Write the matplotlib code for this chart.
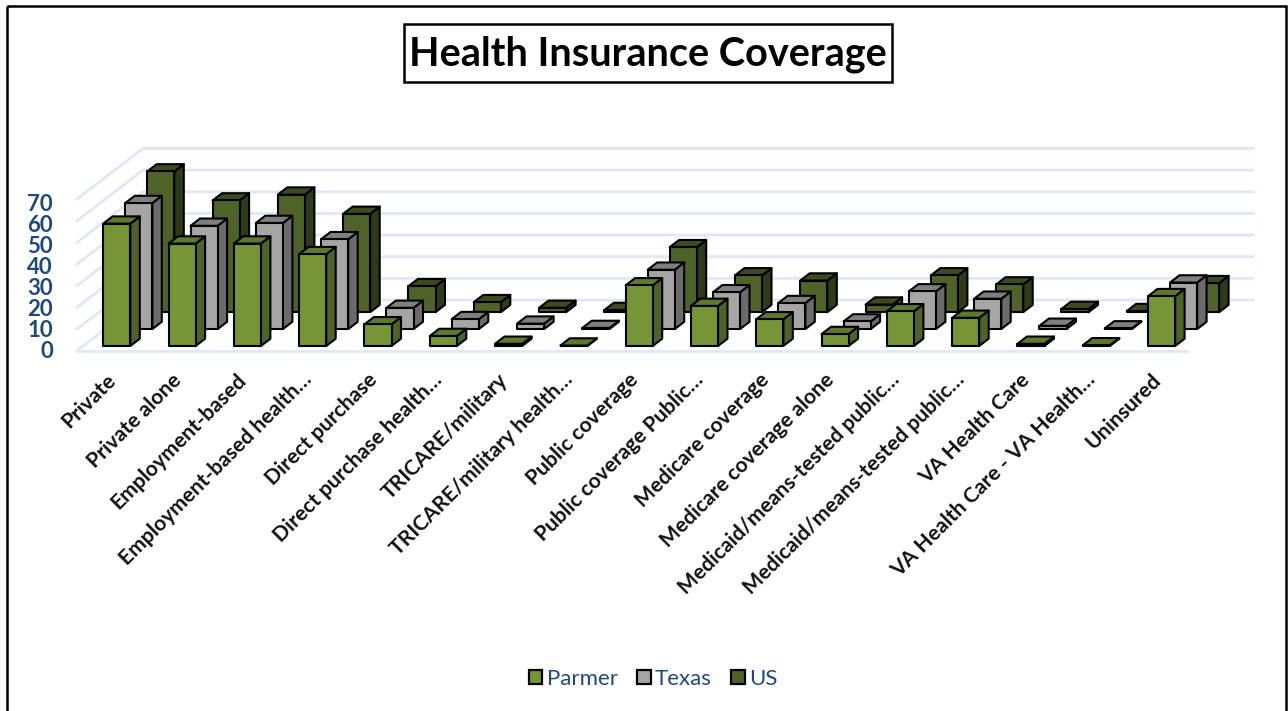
import matplotlib
matplotlib.use("Agg")
import matplotlib.pyplot as plt
from matplotlib.patches import Patch, Polygon, Rectangle

plt.rcParams["font.family"] = ["Lato", "DejaVu Sans"]

categories = [
    "Private", "Private alone", "Employment-based", "Employment-based health…",
    "Direct purchase", "Direct purchase health…", "TRICARE/military",
    "TRICARE/military health…", "Public coverage", "Public coverage Public…",
    "Medicare coverage", "Medicare coverage alone",
    "Medicaid/means-tested public…", "Medicaid/means-tested public…",
    "VA Health Care", "VA Health Care - VA Health…", "Uninsured",
]
parmer = [56.5, 47.3, 47.3, 42.4, 10, 4.6, 1, 0.2, 28, 18.5, 12.3, 5.5, 16, 13, 1, 0.3, 23]
texas = [58.2, 47.7, 49, 41.5, 9.8, 4.6, 2.5, 0.5, 27.4, 17, 12, 3.5, 17.4, 14, 1.5, 0.3, 21.5]
us = [65, 51.6, 54.3, 45.4, 12, 4.6, 2, 1, 30, 17, 14.6, 3.5, 17, 12.8, 1.5, 0.5, 13.4]
y_ticks = [0, 10, 20, 30, 40, 50, 60, 70]

# front, side, top colours
PARMER_COLORS = ("#769537", "#4f6228", "#5c7a2a")
TEXAS_COLORS = ("#a6a6a6", "#6b6b6b", "#7f7f7f")
US_COLORS = ("#4f6228", "#2f3b18", "#3c4b1e")
BLUE = "#1f497d"
GRID = "#dfe8f6"

# oblique projection of the 3D box, in figure pixels
X0, Y0 = 77.0, 350.7
CAT_W = 65.3
UNIT = 2.165
DEPTH_X, DEPTH_Y = 66.0, -50.7
BAR_W = 0.415


def project(pos, depth, value):
    return (X0 + pos * CAT_W + depth * DEPTH_X,
            Y0 + depth * DEPTH_Y - value * UNIT)


def draw_bar(ax, pos, row, value, colors):
    left = pos + 0.515 - BAR_W / 2
    right = pos + 0.515 + BAR_W / 2
    d0 = (row + 0.28) / 3
    d1 = (row + 0.71) / 3
    faces = [
        ([(right, d0, 0), (right, d1, 0), (right, d1, value), (right, d0, value)], colors[1]),
        ([(left, d0, value), (right, d0, value), (right, d1, value), (left, d1, value)], colors[2]),
        ([(left, d0, 0), (right, d0, 0), (right, d0, value), (left, d0, value)], colors[0]),
    ]
    for corners, color in faces:
        pts = [project(*c) for c in corners]
        ax.add_patch(Polygon(pts, closed=True, facecolor=color, edgecolor="black",
                             linewidth=1.5, joinstyle="round", zorder=3))


fig = plt.figure(figsize=(12.88, 7.11), dpi=100)
ax = fig.add_axes([0, 0, 1, 1])
ax.set_xlim(0, 1288)
ax.set_ylim(711, 0)
ax.axis("off")

# outer frame
ax.add_patch(Rectangle((7.5, 5.5), 1279, 720, fill=False, edgecolor="black", linewidth=1.8))

# gridlines on side and back walls
n = len(categories)
for tick in y_ticks:
    xa, ya = project(0, 0, tick)
    xb, yb = project(0, 1, tick)
    xc, yc = project(n, 1, tick)
    ax.plot([xa, xb, xc], [ya, yb, yc], color=GRID, linewidth=2, zorder=1)
    ax.text(xa - 24, Y0 + 1.3 - tick * 2.114, str(tick), ha="right", va="center", color=BLUE,
            fontsize=16, fontweight="bold")
xa, ya = project(0, 0, 0)
xb, yb = project(n, 0, 0)
ax.plot([xa, xb], [ya, yb], color=GRID, linewidth=2, zorder=1)

# back row first so the front rows overlap it
for row, (values, colors) in reversed(list(enumerate(
        [(parmer, PARMER_COLORS), (texas, TEXAS_COLORS), (us, US_COLORS)]))):
    for i, value in enumerate(values):
        draw_bar(ax, i, row, value, colors)

for i, label in enumerate(categories):
    x, y = project(i + 0.5, 0, 0)
    ax.text(x + 3, y + 26, label, rotation=45, rotation_mode="anchor", ha="right", va="center",
            fontsize=15.2, fontweight="bold", color="#111111")

ax.add_patch(Rectangle((404, 24), 488, 58, facecolor="white", edgecolor="black", linewidth=1.8))
ax.text(648, 54.5, "Health Insurance Coverage", ha="center", va="center", fontsize=28.5,
        fontweight="bold", color="black")

handles = [Patch(facecolor=PARMER_COLORS[0], edgecolor="black", linewidth=1.6),
           Patch(facecolor=TEXAS_COLORS[0], edgecolor="black", linewidth=1.6),
           Patch(facecolor=US_COLORS[0], edgecolor="black", linewidth=1.6)]
ax.legend(handles, ["Parmer", "Texas", "US"], ncol=3, frameon=False, loc="center",
          bbox_to_anchor=(653 / 1288, 1 - 679 / 711), fontsize=16, labelcolor=BLUE,
          handlelength=0.62, handleheight=0.62, handletextpad=0.2, columnspacing=0.85)

fig.savefig("out.png", dpi=100)
